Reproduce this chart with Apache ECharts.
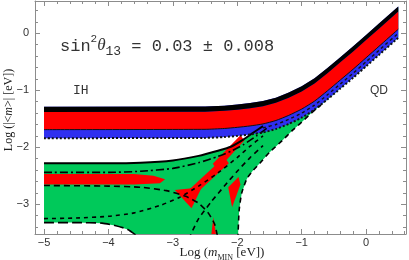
<!DOCTYPE html>
<html><head><meta charset="utf-8">
<script src="https://cdn.jsdelivr.net/npm/echarts@6/dist/echarts.min.js"></script>
<style>html,body{margin:0;padding:0;background:#fff}#c{width:409px;height:260px}</style>
</head><body><div id="c"></div>
<script>
// ---- axes / ticks ----
const XMIN = -5.14, XMAX = 0.62, YMIN = -3.52, YMAX = 0.565;
const X_TICKS = [-5, -4, -3, -2, -1, 0];
const Y_TICKS = [-3, -2, -1, 0];
const X_MINOR = [-5,-4.8,-4.6,-4.4,-4.2,-4,-3.8,-3.6,-3.4,-3.2,-3,-2.8,-2.6,-2.4,-2.2,-2,-1.8,-1.6,-1.4,-1.2,-1,-0.8,-0.6,-0.4,-0.2,0,0.2,0.4,0.6];
const Y_MINOR = [-3.4,-3.2,-3,-2.8,-2.6,-2.4,-2.2,-2,-1.8,-1.6,-1.4,-1.2,-1,-0.8,-0.6,-0.4,-0.2,0,0.2,0.4];

// ---- IH / QD bands (log m_MIN vs log |<m>|) ----
const IH_X        = [-5, -2.5, -2.2, -2.0, -1.8, -1.6, -1.4, -1.2, -1.0, -0.8, -0.6, -0.4, -0.2, 0, 0.2, 0.5];
const IH_TOP      = [-1.29,-1.285,-1.27,-1.25,-1.225,-1.19,-1.13,-1.04,-0.93,-0.79,-0.61,-0.42,-0.23,-0.03,0.17,0.47];
const IH_RED_TOP  = [-1.38,-1.375,-1.36,-1.34,-1.315,-1.28,-1.22,-1.13,-1.02,-0.88,-0.70,-0.51,-0.32,-0.12,0.08,0.38];
const IH_RED_BOT  = [-1.69,-1.685,-1.67,-1.65,-1.625,-1.59,-1.53,-1.44,-1.33,-1.19,-1.01,-0.82,-0.63,-0.43,-0.23,0.07];
const IH_BLUE_BOT = [-1.84,-1.835,-1.82,-1.80,-1.775,-1.74,-1.68,-1.59,-1.48,-1.34,-1.16,-0.97,-0.78,-0.58,-0.38,-0.08];
const QD_MID_DASH = [[-1.6,-1.66],[-1.4,-1.60],[-1.2,-1.51],[-1.0,-1.40],[-0.8,-1.26],[-0.6,-1.08],[-0.4,-0.89],[-0.2,-0.70],[0,-0.50],[0.2,-0.30],[0.5,0.0]];

// ---- NH region ----
const NH_TOP = [[-5,-2.28],[-4,-2.28],[-3.5,-2.27],[-3,-2.23],[-2.6,-2.15],[-2.3,-2.06],[-2.1,-1.99],[-1.9,-1.86],[-1.76,-1.75],[-1.6,-1.63],[-1.4,-1.45],[-1.2,-1.25],[-1,-1.05],[-0.5,-0.55],[0,-0.05],[0.5,0.45]];
const NH_LOW = [[0.5,-0.08],[0,-0.58],[-0.5,-1.07],[-0.7,-1.26],[-0.85,-1.40],[-1.0,-1.56],[-1.14,-1.70],[-1.3,-1.88],[-1.5,-2.09],[-1.65,-2.28],[-1.75,-2.40],[-1.85,-2.55],[-1.93,-2.8],[-1.97,-3.1],[-1.99,-3.6],[-3.5,-3.6],[-3.7,-3.44],[-3.9,-3.37],[-4.1,-3.33],[-4.5,-3.32],[-5,-3.32]];
const NH_RED_BAND    = [[-5,-2.47],[-3.6,-2.47],[-3.3,-2.5],[-3.12,-2.56],[-3.2,-2.63],[-3.6,-2.65],[-5,-2.65]];
const NH_RED_TRI     = [[-2.97,-2.75],[-2.55,-2.70],[-2.71,-3.07]];
const NH_RED_STRIPE1 = [[-2.82,-2.82],[-2.2,-2.17],[-2.13,-2.28],[-2.75,-2.93]];
const NH_RED_STRIPE2 = [[-2.38,-2.29],[-1.95,-1.79],[-1.89,-1.88],[-2.31,-2.40]];
const NH_RED_SMALL   = [[-2.14,-2.70],[-1.98,-2.52],[-1.95,-2.65],[-2.08,-3.05]];
const NH_RED_SPIKE   = [[-2.41,-3.6],[-2.37,-3.22],[-2.32,-3.6]];

const NH_SOLID   = [[-5,-2.28],[-4,-2.28],[-3.5,-2.27],[-3,-2.23],[-2.6,-2.15],[-2.3,-2.06],[-2.1,-1.99],[-1.9,-1.86],[-1.76,-1.75],[-1.6,-1.63]];
const NH_DASHDOT = [[-5,-2.44],[-4,-2.44],[-3.5,-2.42],[-3,-2.37],[-2.6,-2.27],[-2.3,-2.16],[-2.1,-2.07],[-1.9,-1.95],[-1.7,-1.80],[-1.5,-1.63]];
const NH_DASH_A  = [[-5,-2.67],[-4,-2.68],[-3.5,-2.70],[-3.1,-2.76],[-2.8,-2.86],[-2.6,-2.98],[-2.45,-3.15],[-2.35,-3.35],[-2.3,-3.6]];
const NH_DASH_B  = [[-1.99,-3.6],[-1.97,-3.1],[-1.93,-2.8],[-1.85,-2.55],[-1.75,-2.40],[-1.65,-2.28],[-1.5,-2.09],[-1.3,-1.88],[-1.14,-1.70],[-1.0,-1.56],[-0.85,-1.40],[-0.7,-1.26]];
const NH_DASH_C  = [[-5,-3.25],[-4.5,-3.24],[-4,-3.21],[-3.6,-3.15],[-3.2,-3.02],[-2.9,-2.88],[-2.6,-2.68],[-2.3,-2.45],[-2.0,-2.18],[-1.8,-1.98],[-1.6,-1.80]];
const NH_DASH_D  = [[-5,-3.32],[-4.5,-3.32],[-4.1,-3.33],[-3.9,-3.37],[-3.7,-3.44],[-3.5,-3.6]];
const NH_DASH_E  = [[-2.75,-3.6],[-2.6,-3.25],[-2.4,-2.95],[-2.2,-2.68],[-2.0,-2.42],[-1.8,-2.18],[-1.6,-1.97]];

const GREEN = '#00c95a', RED = '#ff0000', BLUE = '#2f2ff0', AX = '#8c8c8c';

const zip = (xs, ys) => xs.map((x, i) => [x, ys[i]]);
const band = (xs, top, bot) => zip(xs, top).concat(zip(xs, bot).reverse());

function poly(pts, color) {
  return { type: 'custom', clip: true, silent: true, data: [0], xAxisIndex: 0, yAxisIndex: 0,
    renderItem: (p, api) => ({ type: 'polygon', shape: { points: pts.map(q => api.coord(q)) }, style: { fill: color } }) };
}
function line(pts, w, type, color) {
  return { type: 'line', data: pts, showSymbol: false, symbol: 'none', silent: true, clip: true,
    smooth: 0.2, xAxisIndex: 0, yAxisIndex: 0, lineStyle: { width: w, type: type, color: color } };
}
const fmt = v => (v < 0 ? '\u2212' + Math.abs(v) : String(v));

function xa(pos, vals, len, labels, showLine) {
  return { type: 'value', min: XMIN, max: XMAX, position: pos,
    axisLine: { show: showLine, onZero: false, lineStyle: { color: AX, width: 1 } },
    axisTick: { show: true, inside: true, length: len, customValues: vals, lineStyle: { color: AX } },
    axisLabel: { show: labels, customValues: vals, formatter: fmt, color: '#333', fontSize: 11, fontFamily: 'Liberation Sans', margin: 3 },
    splitLine: { show: false } };
}
function ya(pos, vals, len, labels, showLine) {
  return { type: 'value', min: YMIN, max: YMAX, position: pos,
    axisLine: { show: showLine, onZero: false, lineStyle: { color: AX, width: 1 } },
    axisTick: { show: true, inside: true, length: len, customValues: vals, lineStyle: { color: AX } },
    axisLabel: { show: labels, customValues: vals, formatter: fmt, color: '#333', fontSize: 11, fontFamily: 'Liberation Sans', margin: 6 },
    splitLine: { show: false } };
}

const chart = echarts.init(document.getElementById('c'), null, { renderer: 'canvas' });
chart.setOption({
  animation: false,
  grid: { left: 35, right: 3, top: 1, bottom: 26, containLabel: false },
  xAxis: [xa('bottom', X_TICKS, 5, true, true), xa('bottom', X_MINOR, 3, false, false),
          xa('top', X_TICKS, 5, false, true), xa('top', X_MINOR, 3, false, false)],
  yAxis: [ya('left', Y_TICKS, 5, true, true), ya('left', Y_MINOR, 3, false, false),
          ya('right', Y_TICKS, 5, false, true), ya('right', Y_MINOR, 3, false, false)],
  series: [
    poly(NH_TOP.concat(NH_LOW), GREEN),
    poly(NH_RED_BAND, RED), poly(NH_RED_TRI, RED), poly(NH_RED_STRIPE1, RED),
    poly(NH_RED_STRIPE2, RED), poly(NH_RED_SMALL, RED), poly(NH_RED_SPIKE, RED),
    line(NH_SOLID, 2, 'solid', '#000'),
    line(NH_DASHDOT, 1.6, [8, 3, 2, 3], '#000'),
    line(NH_DASH_A, 1.6, [6, 4], '#000'),
    line(NH_DASH_B, 1.6, [5, 4], '#000'),
    line(NH_DASH_C, 1.6, [4, 4], '#000'),
    line(NH_DASH_D, 1.6, [10, 4], '#000'),
    line(NH_DASH_E, 1.6, [5, 4], '#000'),
    poly(band(IH_X, IH_TOP, IH_BLUE_BOT), BLUE),
    poly(band(IH_X, IH_RED_TOP, IH_RED_BOT), RED),
    poly(band(IH_X, IH_TOP, IH_RED_TOP), '#000'),
    line(zip(IH_X, IH_RED_BOT), 1, 'solid', '#111'),
    line(QD_MID_DASH, 1.4, [3, 3], '#111'),
    line(zip(IH_X, IH_BLUE_BOT), 2, [2, 2], '#111')
  ],
  graphic: [
    { type: 'text', x: 60, y: 46, style: { text: 'sin{sup|2}{th|θ}{sub|13} = 0.03 ± 0.008', fill: '#333', font: '17px "Liberation Mono"', textVerticalAlign: 'middle',
      rich: { sup: { fontSize: 11, fontFamily: 'Liberation Mono', verticalAlign: 'top', lineHeight: 24 }, th: { fontSize: 17, fontStyle: 'italic', fontFamily: 'Liberation Serif' },
              sub: { fontSize: 13, fontFamily: 'Liberation Mono', verticalAlign: 'bottom', lineHeight: 24 } } } },
    { type: 'text', x: 73, y: 91, style: { text: 'IH', fill: '#333', font: '13px "Liberation Mono"', textVerticalAlign: 'middle' } },
    { type: 'text', x: 370, y: 91, style: { text: 'QD', fill: '#333', font: '12px "Liberation Sans"', textVerticalAlign: 'middle' } },
    { type: 'text', x: 73, y: 208, style: { text: 'NH', fill: '#114', font: '13px "Liberation Serif"', textVerticalAlign: 'middle' } },
    { type: 'text', x: 222, y: 253, style: { text: 'Log ({i|m}{s|MIN} [eV])', fill: '#222', font: '13px "Liberation Serif"', textAlign: 'center', textVerticalAlign: 'middle',
      rich: { i: { fontStyle: 'italic', fontSize: 13, fontFamily: 'Liberation Serif' }, s: { fontSize: 8, fontFamily: 'Liberation Serif', verticalAlign: 'bottom', lineHeight: 17 } } } },
    { type: 'text', x: 9, y: 110, rotation: Math.PI / 2, style: { text: 'Log (|<{i|m}>| [eV])', fill: '#222', font: '12px "Liberation Serif"', textAlign: 'center', textVerticalAlign: 'middle',
      rich: { i: { fontStyle: 'italic', fontSize: 12, fontFamily: 'Liberation Serif' } } } }
  ]
});
</script></body></html>
